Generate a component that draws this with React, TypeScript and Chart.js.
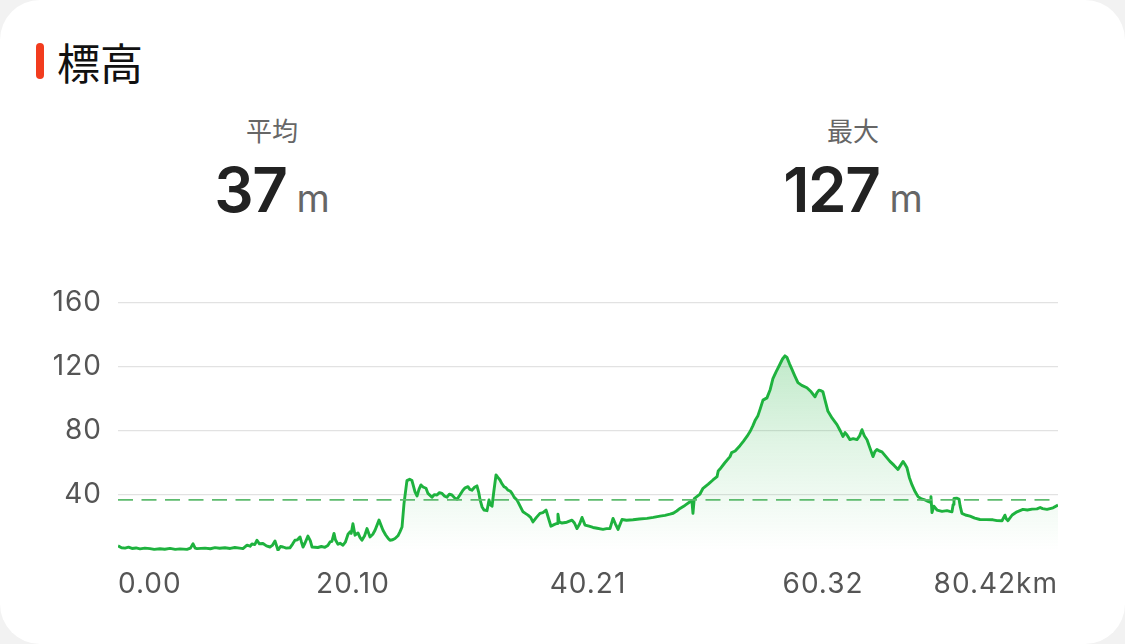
import React, { useEffect, useRef } from 'react';
import { Chart, registerables } from 'chart.js';

Chart.register(...registerables);

// ---- data ----
const titleText = '標高';
const avgLabel = '平均';
const maxLabel = '最大';
const unitText = 'm';
const averageM = 37;
const maxM = 127;

const distanceKm = [
  0.0, 0.3, 0.6, 0.9, 1.2, 1.55, 1.88, 2.3, 2.74, 3.1, 3.59, 4.0, 4.45, 4.9, 5.3, 5.9, 6.2, 6.42, 6.6, 6.76,
  7.44, 7.9, 8.3, 8.7, 9.15, 9.6, 10.0, 10.4, 10.69, 11.04, 11.3, 11.46, 11.7, 11.89, 12.1, 12.4, 12.7, 13.0, 13.2, 13.43,
  13.69, 13.9, 14.12, 14.4, 14.71, 14.95, 15.14, 15.35, 15.57, 15.7, 15.83, 16.0, 16.25, 16.45, 16.6, 17.1, 17.4, 17.7, 17.95, 18.14,
  18.3, 18.48, 18.6, 18.82, 19.0, 19.25, 19.45, 19.68, 19.85, 19.95, 20.1, 20.28, 20.53, 20.7, 20.87, 21.1, 21.3, 21.56, 21.8, 21.99,
  22.33, 22.67, 22.9, 23.1, 23.27, 23.5, 23.7, 23.95, 24.12, 24.3, 24.47, 24.72, 24.95, 25.15, 25.41, 25.58, 25.75, 25.92, 26.1, 26.35,
  26.52, 26.86, 27.05, 27.29, 27.5, 27.72, 27.95, 28.15, 28.35, 28.57, 28.8, 29.0, 29.25, 29.51, 29.7, 29.94, 30.1, 30.28, 30.5, 30.71,
  30.85, 30.97, 31.15, 31.31, 31.57, 31.74, 31.85, 32.0, 32.15, 32.34, 32.5, 32.68, 32.85, 33.02, 33.2, 33.36, 33.55, 33.71, 33.9, 34.13,
  34.4, 34.65, 34.85, 35.08, 35.3, 35.5, 35.8, 36.1, 36.35, 36.62, 36.85, 37.04, 37.3, 37.56, 37.64, 37.75, 37.98, 38.4, 38.84, 39.05,
  39.27, 39.5, 39.7, 39.95, 40.3, 40.64, 41.0, 41.49, 41.8, 42.09, 42.35, 42.55, 42.78, 43.12, 43.5, 44.06, 44.6, 45.26, 45.8, 46.37,
  46.8, 47.22, 47.5, 47.8, 48.08, 48.5, 48.94, 49.1, 49.19, 49.3, 49.79, 50.05, 50.5, 50.9, 51.25, 51.35, 51.5, 51.9, 52.36, 52.5,
  52.8, 53.21, 53.5, 53.81, 54.1, 54.32, 54.5, 54.75, 54.95, 55.18, 55.52, 55.8, 56.03, 56.3, 56.63, 56.85, 57.06, 57.23, 57.45, 57.66,
  57.9, 58.17, 58.5, 58.94, 59.3, 59.63, 59.8, 59.97, 60.15, 60.31, 60.5, 60.74, 61.1, 61.51, 61.8, 62.02, 62.2, 62.37, 62.62, 62.9,
  63.22, 63.45, 63.65, 63.85, 64.08, 64.3, 64.59, 64.75, 64.93, 65.15, 65.36, 65.7, 66.04, 66.4, 66.73, 66.95, 67.16, 67.3, 67.5, 67.7,
  67.93, 68.2, 68.44, 68.75, 69.04, 69.3, 69.47, 69.55, 69.64, 69.8, 70.07, 70.5, 70.92, 71.15, 71.35, 71.45, 71.52, 71.75, 71.95, 72.05,
  72.2, 72.5, 72.89, 73.3, 73.74, 74.3, 74.86, 75.2, 75.63, 75.88, 76.0, 76.14, 76.5, 76.91, 77.42, 77.8, 78.2, 78.62, 78.9, 79.1,
  79.48, 80.0, 80.42,
];

const elevationM = [
  8.2, 7.0, 6.8, 7.4, 6.6, 6.9, 6.3, 6.8, 6.5, 6.0, 6.4, 6.1, 6.6, 6.0, 6.3, 6.0, 6.8, 9.5, 6.8, 6.5,
  6.8, 6.4, 7.1, 6.7, 7.0, 6.6, 7.2, 6.8, 6.5, 8.6, 8.0, 9.4, 9.0, 11.7, 9.5, 9.7, 8.2, 7.5, 8.5, 11.3,
  5.5, 7.8, 7.5, 6.8, 7.0, 9.5, 11.7, 12.0, 13.8, 10.5, 7.5, 10.0, 14.3, 11.5, 7.5, 7.2, 7.8, 7.3, 8.4, 10.7,
  11.0, 16.0, 12.0, 9.2, 9.8, 8.6, 10.5, 15.5, 17.0, 16.0, 22.0, 14.9, 16.3, 13.5, 11.7, 14.5, 19.0, 13.8, 15.5, 18.0,
  24.3, 18.0, 15.0, 13.0, 11.7, 12.0, 12.8, 14.5, 17.0, 20.0, 34.8, 49.0, 49.8, 49.0, 42.0, 39.4, 43.5, 46.3, 45.0, 44.2,
  41.0, 38.6, 40.2, 40.0, 41.5, 41.0, 39.2, 38.6, 40.5, 40.0, 38.2, 37.3, 40.0, 43.0, 44.5, 45.2, 43.5, 43.0, 44.8, 45.7,
  42.0, 37.3, 32.5, 30.6, 30.2, 36.9, 34.0, 33.0, 42.0, 52.6, 51.0, 49.4, 47.0, 45.2, 44.5, 43.0, 42.5, 41.0, 38.5, 36.9,
  33.0, 29.5, 28.5, 27.4, 26.0, 23.2, 26.0, 28.5, 29.0, 30.6, 25.0, 20.5, 21.5, 22.2, 28.0, 23.0, 22.5, 23.0, 24.3, 22.5,
  19.0, 22.0, 26.0, 21.2, 20.5, 19.7, 19.2, 18.5, 19.0, 19.0, 25.4, 22.0, 18.5, 24.7, 24.2, 24.5, 25.0, 25.4, 26.0, 26.8,
  27.3, 28.0, 28.6, 30.0, 31.6, 33.5, 35.8, 36.3, 28.5, 37.8, 40.6, 44.2, 46.8, 49.4, 51.5, 55.0, 56.2, 60.0, 64.0, 66.5,
  67.5, 70.8, 73.5, 76.6, 80.0, 83.4, 86.5, 89.6, 94.0, 99.3, 100.7, 106.0, 112.7, 117.0, 121.7, 125.0, 127.0, 126.0, 122.0, 118.5,
  114.5, 110.2, 108.5, 107.0, 104.5, 101.4, 104.0, 105.5, 105.2, 104.5, 99.0, 92.3, 88.0, 84.0, 80.0, 76.6, 79.0, 77.5, 74.6, 75.2,
  74.6, 77.0, 80.8, 77.0, 74.5, 70.0, 64.0, 67.0, 68.5, 67.5, 67.0, 64.0, 61.0, 58.5, 56.0, 58.5, 61.0, 59.5, 57.0, 51.0,
  46.3, 42.0, 39.0, 37.5, 36.9, 36.0, 35.5, 39.0, 29.0, 33.0, 30.6, 29.8, 30.2, 29.8, 29.5, 34.0, 37.9, 38.0, 37.5, 33.0,
  28.5, 27.5, 26.8, 25.5, 24.7, 24.6, 24.5, 24.0, 23.9, 27.4, 25.0, 24.0, 27.5, 29.5, 31.0, 30.6, 31.2, 31.3, 32.2, 31.5,
  31.0, 32.0, 33.7,
];

const xTickValues = [0, 20.1, 40.21, 60.32, 80.42];
const xTickLabels = ['0.00', '20.10', '40.21', '60.32', '80.42km'];
const yTickValues = [40, 80, 120, 160];
const yMin = 5;
const yMax = 160;

const LINE_GREEN = '#1eb23e';
const AVG_GREEN = '#5dbb6e';

const letterSpacingPlugin = {
  id: 'axisLetterSpacing',
  beforeLayout(chart: any) {
    chart.ctx.letterSpacing = '1px';
  },
  beforeDraw(chart: any) {
    chart.ctx.letterSpacing = '1px';
  },
};

function ElevationChart() {
  const canvasRef = useRef<HTMLCanvasElement | null>(null);

  useEffect(() => {
    const canvas = canvasRef.current;
    if (!canvas) return;
    const chart = new Chart(canvas, {
      type: 'line',
      data: {
        datasets: [
          {
            label: avgLabel,
            data: [
              { x: xTickValues[0], y: averageM },
              { x: xTickValues[xTickValues.length - 1], y: averageM },
            ],
            borderColor: AVG_GREEN,
            borderWidth: 1.8,
            borderDash: [15, 8.5],
            pointRadius: 0,
            fill: false,
          },
          {
            label: titleText,
            data: distanceKm.map((x, i) => ({ x, y: elevationM[i] })),
            borderColor: LINE_GREEN,
            borderWidth: 2.9,
            borderJoinStyle: 'round',
            pointRadius: 0,
            tension: 0,
            fill: 'start',
            backgroundColor: (context: any) => {
              const { chart: c } = context;
              const area = c.chartArea;
              if (!area) return 'rgba(30,178,62,0.15)';
              const g = c.ctx.createLinearGradient(0, area.top, 0, area.bottom);
              g.addColorStop(0, 'rgba(30,178,62,0.36)');
              g.addColorStop(0.55, 'rgba(30,178,62,0.14)');
              g.addColorStop(1, 'rgba(30,178,62,0)');
              return g;
            },
          },
        ],
      },
      plugins: [letterSpacingPlugin],
      options: {
        animation: false,
        responsive: true,
        maintainAspectRatio: false,
        layout: { padding: { left: 0, right: 67, top: 303, bottom: 33 } },
        plugins: { legend: { display: false }, tooltip: { enabled: false } },
        scales: {
          x: {
            type: 'linear',
            min: xTickValues[0],
            max: xTickValues[xTickValues.length - 1],
            grid: { display: false },
            border: { display: false },
            afterBuildTicks: (scale: any) => {
              scale.ticks = xTickValues.map((v) => ({ value: v }));
            },
            afterFit: (scale: any) => {
              scale.height = 60;
            },
            ticks: {
              align: 'inner',
              autoSkip: false,
              maxRotation: 0,
              padding: 9,
              color: '#555555',
              font: { family: 'Inter', size: 28 },
              callback: (_v: any, i: number) => xTickLabels[i],
            },
          },
          y: {
            min: yMin,
            max: yMax,
            grid: { color: '#e2e2e2', lineWidth: 1.2, drawTicks: false },
            border: { display: false },
            afterBuildTicks: (scale: any) => {
              scale.ticks = yTickValues.map((v) => ({ value: v }));
            },
            afterFit: (scale: any) => {
              scale.width = 118;
            },
            ticks: {
              padding: 16,
              color: '#555555',
              font: { family: 'Inter', size: 28 },
              callback: (v: any) => String(v),
            },
          },
        },
      },
    });
    return () => chart.destroy();
  }, []);

  return (
    <div style={{ position: 'absolute', left: 0, top: 0, width: 1125, height: 644 }}>
      <canvas ref={canvasRef} />
    </div>
  );
}

function Stat({ center, label, value }: { center: number; label: string; value: number }) {
  return (
    <>
      <div
        style={{
          position: 'absolute',
          left: center - 150,
          width: 300,
          top: 116,
          textAlign: 'center',
          fontFamily: '"Noto Sans CJK JP", sans-serif',
          fontSize: 26,
          lineHeight: '28px',
          color: '#666666',
        }}
      >
        {label}
      </div>
      <div
        style={{
          position: 'absolute',
          left: center - 200,
          width: 400,
          top: 158,
          textAlign: 'center',
          lineHeight: '63px',
          whiteSpace: 'nowrap',
        }}
      >
        <span
          style={{
            fontFamily: 'Inter, sans-serif',
            fontWeight: 600,
            fontSize: 62,
            letterSpacing: -1.5,
            color: '#222222',
          }}
        >
          {value}
        </span>
        <span style={{ fontFamily: 'Inter, sans-serif', fontWeight: 400, fontSize: 38, color: '#666666', marginLeft: 10 }}>
          {unitText}
        </span>
      </div>
    </>
  );
}

export default function App() {
  return (
    <div style={{ position: 'fixed', left: 0, top: 0, width: 1125, height: 644, background: '#f2f2f2', overflow: 'hidden' }}>
      <div
        style={{
          position: 'absolute',
          left: 0,
          top: 0,
          width: 1125,
          height: 644,
          background: '#ffffff',
          borderRadius: 40,
        }}
      >
        <div
          style={{
            position: 'absolute',
            left: 36,
            top: 43,
            width: 8,
            height: 36,
            borderRadius: 4,
            background: '#f23c1e',
          }}
        />
        <div
          style={{
            position: 'absolute',
            left: 57,
            top: 34,
            fontFamily: '"Noto Sans CJK JP", sans-serif',
            fontSize: 43,
            lineHeight: '54px',
            color: '#111111',
          }}
        >
          {titleText}
        </div>
        <Stat center={272} label={avgLabel} value={averageM} />
        <Stat center={853} label={maxLabel} value={maxM} />
        <ElevationChart />
      </div>
    </div>
  );
}
